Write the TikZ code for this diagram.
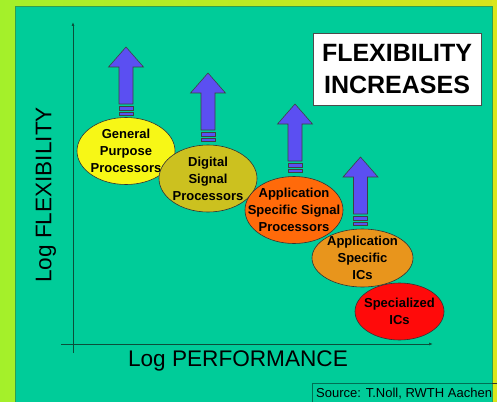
\documentclass[tikz,border=0pt]{standalone}
\usepackage{fontspec}
\setmainfont{Liberation Sans}
\usetikzlibrary{shapes.geometric,arrows.meta}
\definecolor{bgleft}{HTML}{A4F02A}
\definecolor{bgright}{HTML}{D6E41C}
\definecolor{teal1}{HTML}{00CC99}
\definecolor{tealedge}{HTML}{2F9F50}
\definecolor{axiscol}{HTML}{0B4F3A}
\definecolor{arrowblue}{HTML}{5B4FF2}
\definecolor{elA}{HTML}{F7F716}
\definecolor{elB}{HTML}{CCC11F}
\definecolor{elC}{HTML}{FF6A0A}
\definecolor{elD}{HTML}{E8951C}
\definecolor{elE}{HTML}{FF0A0A}
\tikzset{
  procell/.style={ellipse, draw=black!80, line width=0.6pt, minimum width=98pt, minimum height=67pt,
    inner sep=0pt},
  eltext/.style={inner sep=0pt, align=center, font=\fontsize{13}{17}\selectfont\bfseries},
  axisline/.style={draw=axiscol, line width=0.8pt, -{Latex[length=4pt,width=3pt]}},
  axislabel/.style={font=\fontsize{22.6}{26}\selectfont, text=black},
  uparrow/.pic={
    \draw[fill=arrowblue, draw=black!75, line width=0.6pt]
      (-7,0) -- (-7,-37) -- (-17.5,-37) -- (0,-57) -- (17.5,-37) -- (7,-37) -- (7,0) -- cycle;
    \draw[fill=arrowblue, draw=black!75, line width=0.6pt] (-7,2) rectangle (7,6);
    \draw[fill=arrowblue, draw=black!75, line width=0.6pt] (-7,8) rectangle (7,11);
  }
}
\begin{document}
\begin{tikzpicture}[x=1pt,y=-1pt]
\useasboundingbox (0,0) rectangle (497,401);
\shade[left color=bgleft, right color=bgright] (0,0) rectangle (497,401);
\fill[bgright!90!yellow] (492,0) rectangle (497,401);
\draw[fill=teal1, draw=tealedge, line width=0.8pt] (15,6) rectangle (492,410);

% axes
\coordinate (yorig) at (73,353);
\coordinate (ytip) at (73,22);
\coordinate (xorig) at (61,344);
\coordinate (xtip) at (433,344);
\draw[axisline] (yorig) -- (ytip);
\draw[axisline] (xorig) -- (xtip);

\node[axislabel, rotate=90] (ylab) at (46,195) {Log FLEXIBILITY};
\node[axislabel] (xlab) at (238,361) {Log PERFORMANCE};

% arrows
\pic at (126,104) {uparrow};
\pic at (208,130) {uparrow};
\pic at (295,161) {uparrow};
\pic at (360.5,214) {uparrow};

% ellipses
\node[procell, fill=elA] (gpp) at (126,151) {};
\node[eltext] (gppt) at (gpp.center) {General\\Purpose\\Processors};
\node[procell, fill=elB] (dsp) at (208,178.5) {};
\node[eltext] (dspt) at (dsp.center) {Digital\\Signal\\Processors};
\node[procell, fill=elC] (assp) at (294,210) {};
\node[eltext] (asspt) at (assp.center) {Application\\Specific Signal\\Processors};
\node[procell, fill=elD, minimum width=101pt, minimum height=58pt] (asic) at (362.5,258) {};
\node[eltext] (asict) at (asic.center) {Application\\Specific\\ICs};
\node[procell, fill=elE, minimum width=89pt, minimum height=57pt] (sic) at (399.5,311.5) {};
\node[eltext] (sict) at (sic.center) {Specialized\\ICs};

% title box
\node[draw=black!70, line width=0.8pt, fill=white, minimum width=168pt, minimum height=72pt,
  inner sep=0pt, align=center, font=\fontsize{25}{32}\selectfont\bfseries] (title) at (397,69)
  {FLEXIBILITY\\INCREASES};

% source box
\begin{scope}
\clip (0,0) rectangle (492,401);
\draw[draw=black!45!teal1, line width=0.6pt, fill=teal1] (312,383) rectangle (520,410);
\node[anchor=west, inner sep=0pt, font=\fontsize{13}{15}\selectfont] (src) at (316,393.5) {Source: T.Noll, RWTH Aachen};
\end{scope}
\draw[black!80, line width=0.6pt] (492,383) -- (497,383);
\end{tikzpicture}
\end{document}
